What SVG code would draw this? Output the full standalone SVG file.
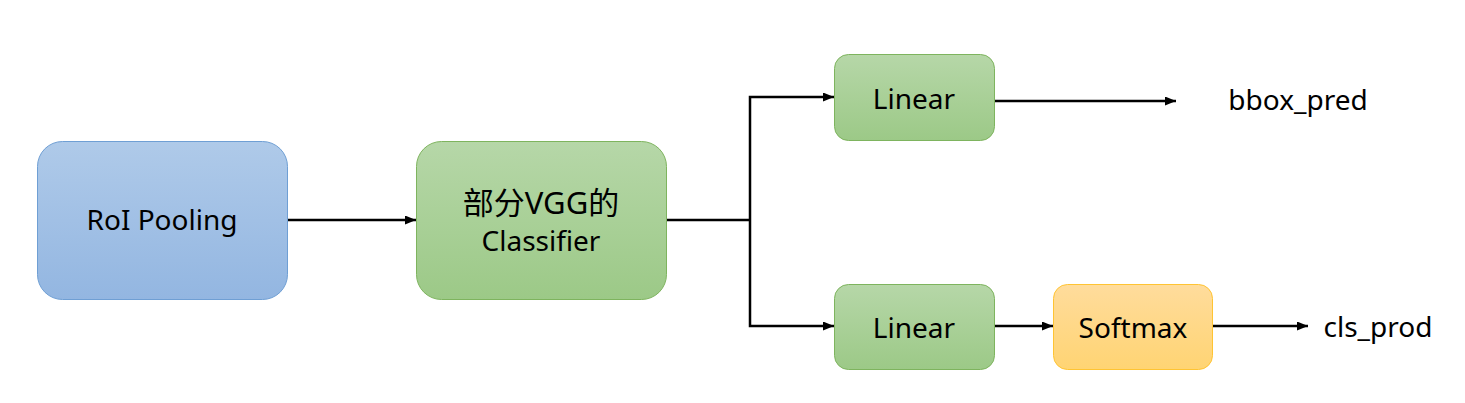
<svg xmlns="http://www.w3.org/2000/svg" width="1465" height="403" viewBox="0 0 1465 403">
<style>
.t{font-family:"Noto Sans","Noto Sans CJK SC",sans-serif;font-size:28px;fill:#000;text-anchor:middle}
.c{fill:none;stroke:#000;stroke-width:2.5}
</style>
<defs>
<linearGradient id="gb" x1="0" y1="0" x2="0" y2="1"><stop offset="0" stop-color="#afcae9"/><stop offset="1" stop-color="#93b6e1"/></linearGradient>
<linearGradient id="gg" x1="0" y1="0" x2="0" y2="1"><stop offset="0" stop-color="#b6d7a8"/><stop offset="1" stop-color="#9cc987"/></linearGradient>
<linearGradient id="go" x1="0" y1="0" x2="0" y2="1"><stop offset="0" stop-color="#ffdc9c"/><stop offset="1" stop-color="#ffd473"/></linearGradient>
<marker id="ah" viewBox="0 0 11 9" refX="11" refY="4.5" markerWidth="11" markerHeight="9" markerUnits="userSpaceOnUse" orient="auto"><path d="M0,0L11,4.5L0,9z" fill="#000"/></marker>
</defs>
<rect width="1465" height="403" fill="#fff"/>
<g id="connectors">
<path class="c" d="M288,220H416" marker-end="url(#ah)"/>
<path class="c" d="M667,220H750"/>
<path class="c" d="M750,220V97H834" marker-end="url(#ah)"/>
<path class="c" d="M750,220V326H834" marker-end="url(#ah)"/>
<path class="c" d="M995,101H1176" marker-end="url(#ah)"/>
<path class="c" d="M995,326H1053" marker-end="url(#ah)"/>
<path class="c" d="M1213,326H1308" marker-end="url(#ah)"/>
</g>
<g id="roi">
<rect x="37.5" y="141.5" width="250" height="158" rx="25" fill="url(#gb)" stroke="#6f9fd4" stroke-width="1"/>
<text class="t" x="162" y="230">RoI Pooling</text>
</g>
<g id="vgg">
<rect x="416.5" y="141.5" width="250" height="158" rx="25" fill="url(#gg)" stroke="#7eb45e" stroke-width="1"/>
<text class="t" x="541" y="214" style="font-size:31px">部分VGG的</text>
<text class="t" x="541" y="251">Classifier</text>
</g>
<g id="linear1">
<rect x="834.5" y="54.5" width="160" height="86" rx="14" fill="url(#gg)" stroke="#7eb45e" stroke-width="1"/>
<text class="t" x="914" y="109">Linear</text>
</g>
<g id="linear2">
<rect x="834.5" y="284.5" width="160" height="85" rx="14" fill="url(#gg)" stroke="#7eb45e" stroke-width="1"/>
<text class="t" x="914" y="338">Linear</text>
</g>
<g id="softmax">
<rect x="1053.5" y="284.5" width="159" height="85" rx="14" fill="url(#go)" stroke="#ffc433" stroke-width="1"/>
<text class="t" x="1133" y="338">Softmax</text>
</g>
<g id="bbox">
<text class="t" x="1298" y="110">bbox_pred</text>
</g>
<g id="cls">
<text class="t" x="1378" y="337">cls_prod</text>
</g>
</svg>
